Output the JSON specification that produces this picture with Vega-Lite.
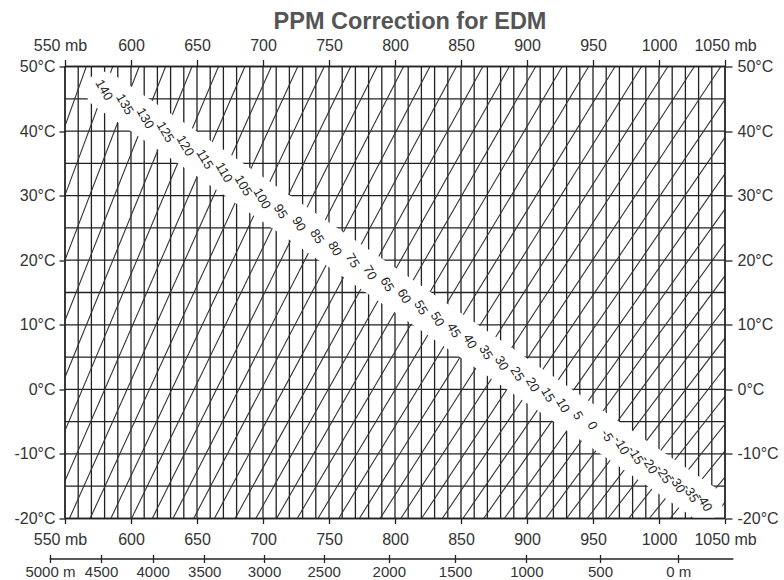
{
  "$schema": "https://vega.github.io/schema/vega-lite/v6.json",
  "width": 660,
  "height": 452,
  "autosize": {"type": "none"},
  "padding": {"left": 65, "top": 66.5, "right": 59, "bottom": 61.5},
  "background": "white",
  "title": {"text": "PPM Correction for EDM", "font": "Liberation Sans", "fontSize": 23.5, "fontWeight": "bold", "color": "#555555", "dx": 15, "offset": 4},
  "config": {
    "view": {"stroke": null},
    "axis": {"labelFont": "Liberation Sans", "labelFontSize": 16, "labelColor": "#333333", "tickColor": "#222222", "tickWidth": 1.3, "domain": false, "grid": false, "title": null, "labelFlush": false, "labelOverlap": false}
  },
  "datasets": {
    "vgrid": [{"p":550},{"p":560},{"p":570},{"p":580},{"p":590},{"p":600},{"p":610},{"p":620},{"p":630},{"p":640},{"p":650},{"p":660},{"p":670},{"p":680},{"p":690},{"p":700},{"p":710},{"p":720},{"p":730},{"p":740},{"p":750},{"p":760},{"p":770},{"p":780},{"p":790},{"p":800},{"p":810},{"p":820},{"p":830},{"p":840},{"p":850},{"p":860},{"p":870},{"p":880},{"p":890},{"p":900},{"p":910},{"p":920},{"p":930},{"p":940},{"p":950},{"p":960},{"p":970},{"p":980},{"p":990},{"p":1000},{"p":1010},{"p":1020},{"p":1030},{"p":1040},{"p":1050}],
    "hgrid": [{"t":-20},{"t":-15},{"t":-10},{"t":-5},{"t":0},{"t":5},{"t":10},{"t":15},{"t":20},{"t":25},{"t":30},{"t":35},{"t":40},{"t":45},{"t":50}],
    "iso": [
      {"ppm":145,"p":443.51,"t":-20},{"ppm":145,"p":566.15,"t":50},
      {"ppm":140,"p":459.20,"t":-20},{"ppm":140,"p":586.18,"t":50},
      {"ppm":135,"p":474.89,"t":-20},{"ppm":135,"p":606.21,"t":50},
      {"ppm":130,"p":490.58,"t":-20},{"ppm":130,"p":626.24,"t":50},
      {"ppm":125,"p":506.27,"t":-20},{"ppm":125,"p":646.26,"t":50},
      {"ppm":120,"p":521.96,"t":-20},{"ppm":120,"p":666.29,"t":50},
      {"ppm":115,"p":537.65,"t":-20},{"ppm":115,"p":686.32,"t":50},
      {"ppm":110,"p":553.34,"t":-20},{"ppm":110,"p":706.35,"t":50},
      {"ppm":105,"p":569.03,"t":-20},{"ppm":105,"p":726.38,"t":50},
      {"ppm":100,"p":584.72,"t":-20},{"ppm":100,"p":746.41,"t":50},
      {"ppm":95,"p":600.41,"t":-20},{"ppm":95,"p":766.43,"t":50},
      {"ppm":90,"p":616.10,"t":-20},{"ppm":90,"p":786.46,"t":50},
      {"ppm":85,"p":631.79,"t":-20},{"ppm":85,"p":806.49,"t":50},
      {"ppm":80,"p":647.48,"t":-20},{"ppm":80,"p":826.52,"t":50},
      {"ppm":75,"p":663.17,"t":-20},{"ppm":75,"p":846.55,"t":50},
      {"ppm":70,"p":678.86,"t":-20},{"ppm":70,"p":866.57,"t":50},
      {"ppm":65,"p":694.55,"t":-20},{"ppm":65,"p":886.60,"t":50},
      {"ppm":60,"p":710.24,"t":-20},{"ppm":60,"p":906.63,"t":50},
      {"ppm":55,"p":725.93,"t":-20},{"ppm":55,"p":926.66,"t":50},
      {"ppm":50,"p":741.62,"t":-20},{"ppm":50,"p":946.69,"t":50},
      {"ppm":45,"p":757.31,"t":-20},{"ppm":45,"p":966.72,"t":50},
      {"ppm":40,"p":773.00,"t":-20},{"ppm":40,"p":986.74,"t":50},
      {"ppm":35,"p":788.69,"t":-20},{"ppm":35,"p":1006.77,"t":50},
      {"ppm":30,"p":804.38,"t":-20},{"ppm":30,"p":1026.80,"t":50},
      {"ppm":25,"p":820.07,"t":-20},{"ppm":25,"p":1046.83,"t":50},
      {"ppm":20,"p":835.76,"t":-20},{"ppm":20,"p":1066.86,"t":50},
      {"ppm":15,"p":851.45,"t":-20},{"ppm":15,"p":1086.88,"t":50},
      {"ppm":10,"p":867.14,"t":-20},{"ppm":10,"p":1106.91,"t":50},
      {"ppm":5,"p":882.83,"t":-20},{"ppm":5,"p":1126.94,"t":50},
      {"ppm":0,"p":898.52,"t":-20},{"ppm":0,"p":1146.97,"t":50},
      {"ppm":-5,"p":914.21,"t":-20},{"ppm":-5,"p":1167.00,"t":50},
      {"ppm":-10,"p":929.90,"t":-20},{"ppm":-10,"p":1187.03,"t":50},
      {"ppm":-15,"p":945.59,"t":-20},{"ppm":-15,"p":1207.05,"t":50},
      {"ppm":-20,"p":961.28,"t":-20},{"ppm":-20,"p":1227.08,"t":50},
      {"ppm":-25,"p":976.97,"t":-20},{"ppm":-25,"p":1247.11,"t":50},
      {"ppm":-30,"p":992.66,"t":-20},{"ppm":-30,"p":1267.14,"t":50},
      {"ppm":-35,"p":1008.35,"t":-20},{"ppm":-35,"p":1287.17,"t":50},
      {"ppm":-40,"p":1024.04,"t":-20},{"ppm":-40,"p":1307.19,"t":50},
      {"ppm":-45,"p":1039.73,"t":-20},{"ppm":-45,"p":1327.22,"t":50}
    ],
    "labels": [
      {"ppm":140,"p":579.52,"t":46.33},{"ppm":135,"p":595.20,"t":44.13},{"ppm":130,"p":610.65,"t":41.96},{"ppm":125,"p":625.90,"t":39.82},
      {"ppm":120,"p":640.95,"t":37.71},{"ppm":115,"p":655.79,"t":35.62},{"ppm":110,"p":670.43,"t":33.57},{"ppm":105,"p":684.88,"t":31.54},
      {"ppm":100,"p":699.13,"t":29.53},{"ppm":95,"p":713.21,"t":27.56},{"ppm":90,"p":727.10,"t":25.61},{"ppm":85,"p":740.81,"t":23.68},
      {"ppm":80,"p":754.34,"t":21.78},{"ppm":75,"p":767.70,"t":19.90},{"ppm":70,"p":780.89,"t":18.05},{"ppm":65,"p":793.92,"t":16.22},
      {"ppm":60,"p":806.79,"t":14.41},{"ppm":55,"p":819.50,"t":12.63},{"ppm":50,"p":832.05,"t":10.87},{"ppm":45,"p":844.44,"t":9.12},
      {"ppm":40,"p":856.69,"t":7.41},{"ppm":35,"p":868.78,"t":5.71},{"ppm":30,"p":880.73,"t":4.03},{"ppm":25,"p":892.54,"t":2.37},
      {"ppm":20,"p":904.20,"t":0.73},{"ppm":15,"p":915.73,"t":-0.89},{"ppm":10,"p":927.12,"t":-2.49},{"ppm":5,"p":938.37,"t":-4.07},
      {"ppm":0,"p":949.51,"t":-5.63},{"ppm":-5,"p":960.51,"t":-7.18},{"ppm":-10,"p":971.38,"t":-8.70},{"ppm":-15,"p":982.14,"t":-10.22},
      {"ppm":-20,"p":992.76,"t":-11.71},{"ppm":-25,"p":1003.27,"t":-13.18},{"ppm":-30,"p":1013.66,"t":-14.64},{"ppm":-35,"p":1023.94,"t":-16.09},
      {"ppm":-40,"p":1034.10,"t":-17.51}
    ],
    "altitude": [
      {"alt":5000,"p":538.6},{"alt":4500,"p":577.3},{"alt":4000,"p":616.4},{"alt":3500,"p":655.5},{"alt":3000,"p":700.8},{"alt":2500,"p":746.0},
      {"alt":2000,"p":795.3},{"alt":1500,"p":845.5},{"alt":1000,"p":899.5},{"alt":500,"p":955.3},{"alt":0,"p":1014.5}
    ]
  },
  "layer": [
    {
      "layer": [
        {
          "data": {"name": "vgrid"},
          "mark": {"type": "rule", "color": "#222222", "strokeWidth": 1.3},
          "encoding": {
            "x": {"field": "p", "type": "quantitative", "scale": {"domain": [550, 1050], "nice": false, "zero": false},
              "axis": {"orient": "top", "values": [550,600,650,700,750,800,850,900,950,1000,1050], "tickSize": 7, "labelPadding": 6,
                "labelExpr": "datum.value == 550 || datum.value == 1050 ? datum.value + ' mb' : '' + datum.value",
                "labelOffset": {"condition": {"test": "datum.value == 550", "value": -5}, "value": 0}}}
          }
        },
        {
          "data": {"name": "hgrid"},
          "mark": {"type": "rule", "color": "#222222", "strokeWidth": 1.3},
          "encoding": {
            "y": {"field": "t", "type": "quantitative", "scale": {"domain": [-20, 50], "nice": false, "zero": false},
              "axis": {"orient": "left", "values": [-20,-10,0,10,20,30,40,50], "tickSize": 6, "labelPadding": 4,
                "labelExpr": "datum.value + '°C'"}}
          }
        },
        {
          "data": {"name": "iso"},
          "mark": {"type": "line", "color": "#333333", "strokeWidth": 1.1, "clip": true},
          "encoding": {
            "x": {"field": "p", "type": "quantitative",
              "axis": {"orient": "bottom", "values": [550,600,650,700,750,800,850,900,950,1000,1050], "tickSize": 5, "labelPadding": 8,
                "labelExpr": "datum.value == 550 || datum.value == 1050 ? datum.value + ' mb' : '' + datum.value",
                "labelOffset": {"condition": {"test": "datum.value == 550", "value": -5}, "value": 0}}},
            "y": {"field": "t", "type": "quantitative", "axis": null},
            "detail": {"field": "ppm", "type": "nominal"}
          }
        },
        {
          "data": {"name": "labels"},
          "mark": {"type": "line", "color": "white", "strokeWidth": 37, "strokeCap": "round", "strokeJoin": "round", "clip": true},
          "encoding": {
            "x": {"field": "p", "type": "quantitative", "axis": null},
            "y": {"field": "t", "type": "quantitative", "axis": null}
          }
        },
        {
          "data": {"name": "labels"},
          "mark": {"type": "text", "angle": 60, "font": "Liberation Sans", "fontSize": 13, "color": "#222222", "align": "center", "baseline": "middle"},
          "encoding": {
            "x": {"field": "p", "type": "quantitative", "axis": null},
            "y": {"field": "t", "type": "quantitative",
              "axis": {"orient": "right", "values": [-20,-10,0,10,20,30,40,50], "tickSize": 7, "labelPadding": 5,
                "labelExpr": "datum.value + '°C'"}},
            "text": {"field": "ppm", "type": "nominal"}
          }
        },
        {
          "data": {"name": "vgrid"},
          "transform": [{"filter": "datum.p == 550 || datum.p == 1050"}],
          "mark": {"type": "rule", "color": "#222222", "strokeWidth": 1.4},
          "encoding": {"x": {"field": "p", "type": "quantitative", "axis": null}}
        },
        {
          "data": {"name": "hgrid"},
          "transform": [{"filter": "datum.t == -20 || datum.t == 50"}],
          "mark": {"type": "rule", "color": "#222222", "strokeWidth": 1.4},
          "encoding": {"y": {"field": "t", "type": "quantitative", "axis": null}}
        }
      ],
      "resolve": {"axis": {"x": "independent", "y": "independent"}}
    },
    {
      "layer": [
        {
          "data": {"name": "altitude"},
          "mark": {"type": "point", "opacity": 0},
          "encoding": {
            "x": {"field": "p", "type": "quantitative", "scale": {"domain": [538, 1056], "range": [-15.84, 667.92], "nice": false, "zero": false},
              "axis": {"orient": "bottom", "offset": 40, "values": [538.6,577.3,616.4,655.5,700.8,746.0,795.3,845.5,899.5,955.3,1014.5],
                "domain": true, "domainColor": "#222222", "domainWidth": 1.3, "tickSize": 4, "labelPadding": 2, "labelFontSize": 15,
                "labelExpr": "datum.value < 560 ? '5000 m' : datum.value < 600 ? '4500' : datum.value < 640 ? '4000' : datum.value < 680 ? '3500' : datum.value < 720 ? '3000' : datum.value < 770 ? '2500' : datum.value < 820 ? '2000' : datum.value < 870 ? '1500' : datum.value < 930 ? '1000' : datum.value < 990 ? '500' : '0 m'"}}
          }
        },
        {
          "data": {"name": "altitude"},
          "mark": {"type": "point", "opacity": 0},
          "encoding": {
            "x": {"field": "p", "type": "quantitative",
              "axis": {"orient": "bottom", "offset": 36, "values": [538.6,577.3,616.4,655.5,700.8,746.0,795.3,845.5,899.5,955.3,1014.5],
                "domain": false, "tickSize": 4, "labels": false}}
          }
        }
      ],
      "resolve": {"axis": {"x": "independent"}}
    }
  ],
  "resolve": {"scale": {"x": "independent"}, "axis": {"x": "independent", "y": "independent"}}
}
